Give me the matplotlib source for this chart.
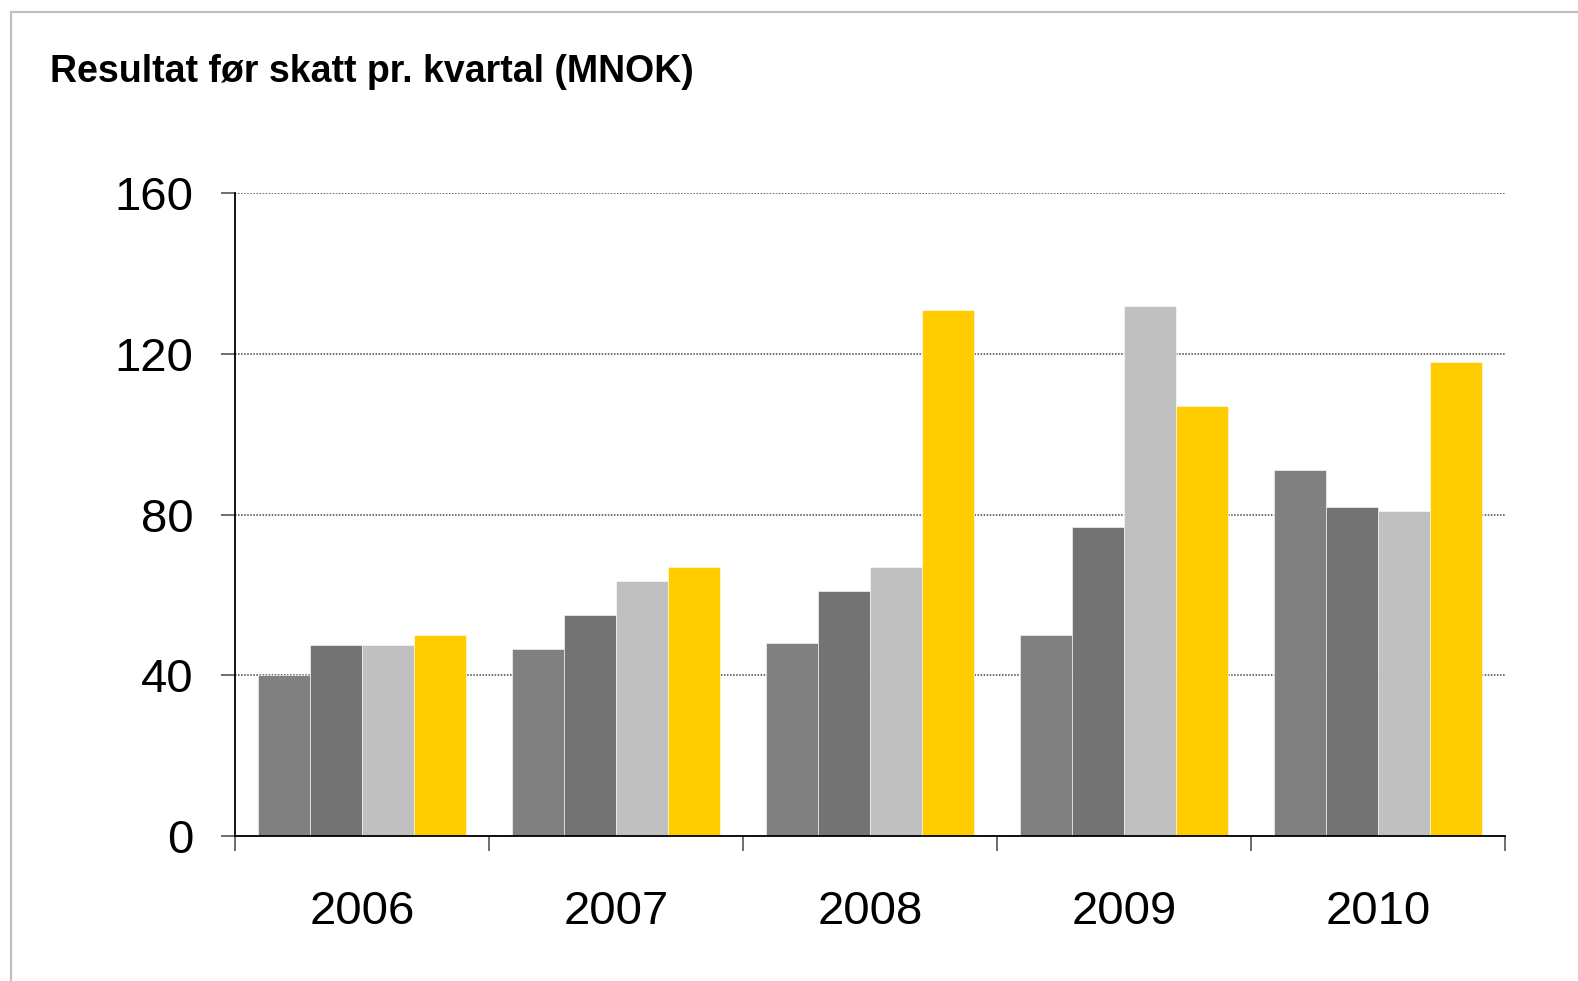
import matplotlib
matplotlib.use("Agg")
import matplotlib.pyplot as plt
import numpy as np
from matplotlib.patches import Rectangle

plt.rcParams['font.family'] = ['Liberation Sans', 'DejaVu Sans']

years = ["2006", "2007", "2008", "2009", "2010"]
q1 = [40, 46.5, 48, 50, 91]
q2 = [47.5, 55, 61, 77, 82]
q3 = [47.5, 63.5, 67, 132, 81]
q4 = [50, 67, 131, 107, 118]
series = [q1, q2, q3, q4]
colors = ["#808080", "#737373", "#c0c0c0", "#ffcc00"]
yticks = [0, 40, 80, 120, 160]
title = "Resultat før skatt pr. kvartal (MNOK)"

W, H = 1578, 981
fig = plt.figure(figsize=(W / 100, H / 100), dpi=100)
fig.patch.set_facecolor("white")

# light grey frame (top and left visible)
fig.add_artist(Rectangle((10.5 / W, -0.05), 1.2, (H - 12) / H + 0.05,
                         transform=fig.transFigure, fill=False,
                         edgecolor="#c0c0c0", linewidth=1.6))

ax = fig.add_axes([235.3 / W, (H - 836) / H, (1504.7 - 235.3) / W, (836 - 193.3) / H])

bw = 0.2047
x = np.arange(len(years))
for i, (vals, c) in enumerate(zip(series, colors)):
    ax.bar(x - 1.5 * bw + i * bw + 0.5, vals, width=bw, color=c,
           edgecolor="white", linewidth=0.4, zorder=3)

ax.set_xlim(0, len(years))
ax.set_ylim(0, 160)
ax.set_yticks(yticks)
ax.set_yticklabels([str(t) for t in yticks], fontsize=34)
ax.set_xticks(np.arange(len(years) + 1))
ax.set_xticklabels([])
ax.set_xticks(x + 0.5, minor=True)
ax.set_xticklabels(years, minor=True, fontsize=34)
ax.tick_params(axis="x", which="minor", length=0, pad=39)
ax.tick_params(axis="x", which="major", length=11, width=1.2, color="#555555")
ax.tick_params(axis="y", length=10, width=1.2, color="#555555", pad=20)

ax.grid(axis="y", linestyle=(0, (1, 1)), color="#444444", linewidth=1.1, zorder=1)
for s in ["top", "right"]:
    ax.spines[s].set_visible(False)
for s in ["left", "bottom"]:
    ax.spines[s].set_color("black")
    ax.spines[s].set_linewidth(1.3)
ax.spines["bottom"].set_zorder(4)

fig.text(50 / W, (H - 82) / H, title, fontsize=27, fontweight="bold",
         ha="left", va="baseline")

fig.savefig("out.png", dpi=100)
